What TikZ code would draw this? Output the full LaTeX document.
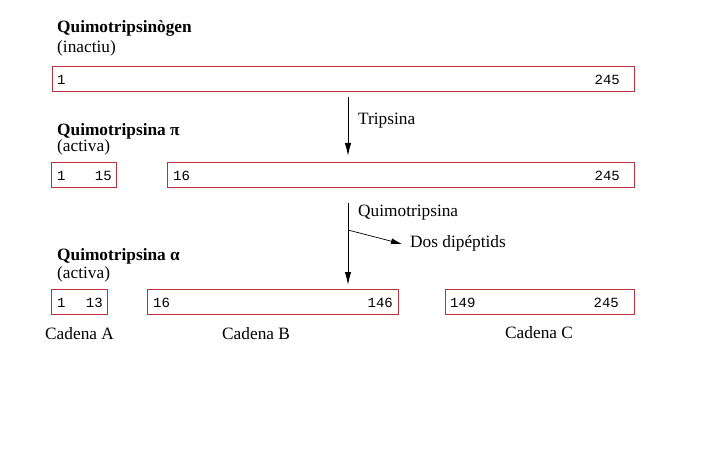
\documentclass[tikz,border=0pt]{standalone}
\usepackage{fontspec}
\setmainfont{Liberation Serif}
\setmonofont{Liberation Mono}
\usetikzlibrary{arrows.meta}
\definecolor{boxred}{RGB}{185,50,60}
\begin{document}
\begin{tikzpicture}[x=1pt,y=-1pt,
  chain/.style={draw=boxred,line width=1pt,rectangle,inner sep=0pt},
  num/.style={font=\fontsize{14}{14}\selectfont\ttfamily,inner sep=0pt},
  lbl/.style={font=\fontsize{17.3}{18}\selectfont,inner sep=0pt,anchor=base west},
  ttl/.style={font=\fontsize{17.3}{18}\selectfont\bfseries,inner sep=0pt,anchor=base west},
  arr/.style={line width=1pt,-{Latex[length=13pt,width=6.5pt]}},
  sarr/.style={line width=0.7pt,-{Latex[length=11pt,width=6pt]}}]
\useasboundingbox (0,0) rectangle (719,465);
% titles
\node[ttl] (t1) at (57,33) {Quimotripsinògen};
\node[lbl] (s1) at (57,53) {(inactiu)};
\node[ttl] (t2) at (57,136) {Quimotripsina π};
\node[lbl] (s2) at (57,152) {(activa)};
\node[ttl] (t3) at (57,260.5) {Quimotripsina α};
\node[lbl] (s3) at (57,278) {(activa)};
% boxes
\node[chain,minimum width=582pt,minimum height=25pt] (b1) at (343,79.5) {};
\node[chain,minimum width=65pt,minimum height=24pt] (b2a) at (83.5,175) {};
\node[chain,minimum width=467pt,minimum height=24pt] (b2b) at (400.5,175) {};
\node[chain,minimum width=56pt,minimum height=25pt] (b3a) at (79,301.5) {};
\node[chain,minimum width=251pt,minimum height=25pt] (b3b) at (272.5,301.5) {};
\node[chain,minimum width=189pt,minimum height=25pt] (b3c) at (539.5,301.5) {};
% numbers
\node[num,anchor=base west] (n1a) at (57,85) {1};
\node[num,anchor=base east] (n1b) at (620,85) {245};
\node[num,anchor=base west] (n2a) at (57,180.5) {1};
\node[num,anchor=base east] (n2b) at (112,180.5) {15};
\node[num,anchor=base west] (n2c) at (173,180.5) {16};
\node[num,anchor=base east] (n2d) at (620,180.5) {245};
\node[num,anchor=base west] (n3a) at (57,307) {1};
\node[num,anchor=base east] (n3b) at (103,307) {13};
\node[num,anchor=base west] (n3c) at (153,307) {16};
\node[num,anchor=base east] (n3d) at (393,307) {146};
\node[num,anchor=base west] (n3e) at (450,307) {149};
\node[num,anchor=base east] (n3f) at (619,307) {245};
% arrows and labels
\coordinate (a1s) at (348,97);
\coordinate (a1e) at (348,156);
\draw[arr] (a1s) -- (a1e);
\node[lbl] (tr) at (358,125) {Tripsina};
\coordinate (a2s) at (348,203);
\coordinate (a2e) at (348,285);
\coordinate (br) at (348,230);
\coordinate (bre) at (402,244);
\draw[arr] (a2s) -- (a2e);
\draw[sarr] (br) -- (bre);
\node[lbl] (qm) at (358,216.5) {Quimotripsina};
\node[lbl] (dd) at (410,247) {Dos dipéptids};
% chain names
\node[lbl] (ca) at (45,339) {Cadena A};
\node[lbl] (cb) at (222,339) {Cadena B};
\node[lbl] (cc) at (505,338) {Cadena C};
\end{tikzpicture}
\end{document}
